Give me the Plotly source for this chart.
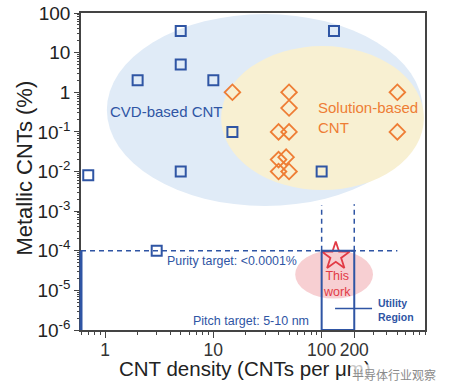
import math
import plotly.graph_objects as go

# ---- data ----
cvd_x = [5, 5, 2, 10, 15, 5, 0.7, 130, 100, 3]
cvd_y = [35, 5, 2, 2, 0.1, 0.01, 0.008, 35, 0.01, 1e-4]
sol_x = [15, 50, 50, 40, 50, 40, 47, 40, 50, 500, 500]
sol_y = [1, 1, 0.4, 0.1, 0.1, 0.02, 0.023, 0.01, 0.01, 1, 0.1]
this_x = [135]
this_y = [7.3e-5]
purity_target = 1e-4
pitch_low, pitch_high = 100, 200
y_floor = 1e-6
x_tickvals = [1, 10, 100, 200]
x_ticktext = ["1", "10", "100", "200"]
y_tickvals = [100, 10, 1, 1e-1, 1e-2, 1e-3, 1e-4, 1e-5, 1e-6]
y_ticktext = ["100", "10", "1", "10<sup>-1</sup>", "10<sup>-2</sup>", "10<sup>-3</sup>",
              "10<sup>-4</sup>", "10<sup>-5</sup>", "10<sup>-6</sup>"]

XMIN, XMAX = 0.6, 900
BLUE = "#2f55a4"
ORANGE = "#ee7d35"
RED = "#e23b46"
FONT = "Arial, Liberation Sans, sans-serif"
L = math.log10

fig = go.Figure()

# ellipses (data coords)
fig.add_shape(type="circle", xref="x", yref="y", x0=1.04, x1=860, y0=1.35e-3, y1=94,
              fillcolor="#e0ebf7", line_width=0, layer="below")
fig.add_shape(type="circle", xref="x", yref="y", x0=11.8, x1=880, y0=3.4e-3, y1=14.7,
              fillcolor="#f8f0d2", line_width=0, layer="below")
fig.add_shape(type="circle", xref="x", yref="y", x0=57, x1=298, y0=6.2e-6, y1=1.03e-4,
              fillcolor="rgba(240,160,165,0.5)", line_width=0, layer="below")

# target lines
dash = dict(color=BLUE, width=1.5, dash="5px,4px")
fig.add_shape(type="line", xref="x", yref="y", x0=XMIN, x1=500, y0=purity_target, y1=purity_target, line=dash)
fig.add_shape(type="line", xref="x", yref="y", x0=pitch_low, x1=pitch_low, y0=purity_target, y1=1.4e-3, line=dash)
fig.add_shape(type="line", xref="x", yref="y", x0=pitch_high, x1=pitch_high, y0=purity_target, y1=1.5e-3, line=dash)
fig.add_shape(type="rect", xref="x", yref="y", x0=pitch_low, x1=pitch_high, y0=y_floor, y1=purity_target,
              line=dict(color=BLUE, width=2))
fig.add_shape(type="line", xref="paper", yref="y", x0=0, x1=0, y0=y_floor, y1=purity_target,
              line=dict(color=BLUE, width=3))
fig.add_shape(type="line", xref="x", yref="y", x0=133, x1=292, y0=3.5e-6, y1=3.5e-6,
              line=dict(color=BLUE, width=1.5))

fig.add_trace(go.Scatter(x=cvd_x, y=cvd_y, mode="markers",
                         marker=dict(symbol="square-open", size=10, color=BLUE, line=dict(width=2, color=BLUE)),
                         showlegend=False))
fig.add_trace(go.Scatter(x=sol_x, y=sol_y, mode="markers",
                         marker=dict(symbol="diamond-open", size=12, color=ORANGE, line=dict(width=1.8, color=ORANGE)),
                         showlegend=False))
fig.add_trace(go.Scatter(x=this_x, y=this_y, mode="markers",
                         marker=dict(symbol="star-open", size=21, color=RED, line=dict(width=1.8, color=RED)),
                         showlegend=False))

ann = []
def A(text, x, y, color, size, xanchor="center", bold=False, align="center"):
    ann.append(dict(text=("<b>%s</b>" % text) if bold else text, x=L(x), y=L(y), xref="x", yref="y",
                    showarrow=False, xanchor=xanchor, yanchor="middle", align=align,
                    font=dict(family=FONT, size=size, color=color)))

A("CVD-based CNT", 3.66, 10 ** -0.49, BLUE, 15)
A("Solution-based<br>CNT", 88, 10 ** -0.636, ORANGE, 15, xanchor="left", align="left")
A("Purity target: <0.0001%", 14.9, 10 ** -4.263, BLUE, 12.4)
A("Pitch target: 5-10 nm", 22.3, 10 ** -5.77, BLUE, 12.5)
A("This<br>work", 138, 10 ** -4.851, RED, 12.5)
A("Utility<br>Region", 316, 10 ** -5.49, BLUE, 10.5, xanchor="left", bold=True, align="left")

ann.append(dict(text="CNT density (CNTs per μm)", x=0.478, y=-0.12, xref="paper", yref="paper",
                showarrow=False, xanchor="center", yanchor="middle",
                font=dict(family=FONT, size=20.5, color="#222")))
ann.append(dict(text="Metallic CNTs (%)", x=-0.167, y=0.511, xref="paper", yref="paper",
                showarrow=False, xanchor="center", yanchor="middle", textangle=-90,
                font=dict(family=FONT, size=22, color="#222")))
ann.append(dict(text="半导体行业观察", x=(394 - 81) / 344, y=(330 - 374) / 317, xref="paper", yref="paper",
                showarrow=False, xanchor="center", yanchor="middle", bgcolor="rgba(255,255,255,0.75)",
                font=dict(family="Noto Sans CJK SC", size=12, color="#8a8a8a")))

x_minor = [v * 10 ** e for e in range(-1, 3) for v in range(2, 10) if XMIN <= v * 10 ** e <= XMAX]
y_minor = [v * 10.0 ** e for e in range(-6, 2) for v in range(2, 10)]

fig.update_layout(
    width=449, height=392, margin=dict(l=81, r=24, t=13, b=62, autoexpand=False),
    paper_bgcolor="white", plot_bgcolor="white",
    annotations=ann, showlegend=False,
    xaxis=dict(type="log", range=[L(XMIN), L(XMAX)], showgrid=False, zeroline=False, automargin=False,
               showline=True, linecolor="#444", linewidth=1.5, mirror=True,
               tickmode="array", tickvals=x_tickvals, ticktext=x_ticktext, tickangle=0,
               ticks="outside", ticklen=6, tickcolor="#444", tickwidth=1.2, ticklabelstandoff=-3,
               tickfont=dict(family=FONT, size=17.5, color="#333"),
               minor=dict(tickmode="array", tickvals=x_minor, ticks="outside", ticklen=3, tickcolor="#444")),
    yaxis=dict(type="log", range=[-6, 2], showgrid=False, zeroline=False, automargin=False,
               showline=True, linecolor="#444", linewidth=1.5, mirror=True,
               tickmode="array", tickvals=y_tickvals, ticktext=y_ticktext,
               ticks="outside", ticklen=5, tickcolor="#444", tickwidth=1.2,
               tickfont=dict(family=FONT, size=19, color="#222"),
               minor=dict(tickmode="array", tickvals=y_minor, ticks="outside", ticklen=2.5, tickcolor="#444")),
)

fig.write_html("out.html", config={"displayModeBar": False},
               post_script="document.body.style.margin='0px';document.body.style.overflow='hidden';")
